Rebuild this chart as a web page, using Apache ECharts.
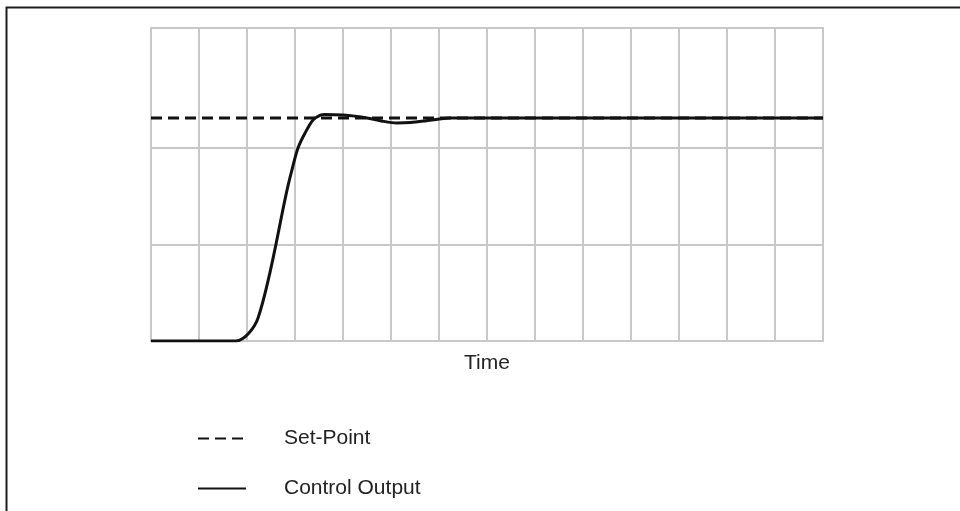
<!DOCTYPE html>
<html>
<head>
<meta charset="utf-8">
<script src="https://cdn.jsdelivr.net/npm/echarts@6/dist/echarts.min.js"></script>
<style>html,body{margin:0;padding:0;background:#fff;}#c{width:960px;height:511px;}</style>
</head>
<body>
<div id="c"></div>
<script>
// Time axis: 14 grid divisions; y in grid-line units (lines at 1 and 2)
var timeValues    = [0, 1.77, 2.23, 2.85, 2.95, 3.0625, 3.21, 3.375, 3.53, 3.625, 4.0, 4.25, 4.5, 4.8, 5.125, 5.4, 5.71, 6.0, 6.23, 6.6, 14];
var controlOutput = [0, 0, 0.238, 1.6, 1.8, 2.0, 2.155, 2.29, 2.34, 2.347, 2.342, 2.33, 2.311, 2.28, 2.259, 2.263, 2.28, 2.3, 2.311, 2.311, 2.311];
var setPointX = [0, 14];
var setPointValue = 2.311;
var gridLineValues = [1, 2];
var seriesNames = ['Set-Point', 'Control Output'];
var axisTitle = 'Time';

var gridColor = '#c8c8c8';
var fontFam = 'Liberation Sans, Arial, sans-serif';
function pairs(xs, ys) { return xs.map(function (x, i) { return [x, ys[i]]; }); }

var chart = echarts.init(document.getElementById('c'), null, {renderer: 'canvas'});
chart.setOption({
  animation: false,
  backgroundColor: '#fff',
  graphic: [{
    type: 'rect', left: 4, top: 5, silent: true, z: 100,
    shape: {width: 2000, height: 2000},
    style: {fill: 'none', stroke: '#1e1e1e', lineWidth: 2}
  }],
  grid: {left: 151, right: 137, top: 28, bottom: 170, show: true, borderColor: gridColor, borderWidth: 2, backgroundColor: 'transparent'},
  legend: {
    orient: 'vertical', left: 192, top: 423, itemWidth: 48, itemHeight: 14, itemGap: 29,
    itemStyle: {color: 'rgba(0,0,0,0)', borderColor: 'rgba(0,0,0,0)', borderWidth: 0, opacity: 0},
    textStyle: {fontFamily: fontFam, fontSize: 21, color: '#222', padding: [0, 0, 0, 33]},
    data: seriesNames
  },
  xAxis: {
    type: 'value', min: 0, max: 14, interval: 1,
    axisLine: {show: false}, axisTick: {show: false}, axisLabel: {show: false},
    splitLine: {show: true, lineStyle: {color: gridColor, width: 2}},
    name: axisTitle, nameLocation: 'middle', nameGap: 12,
    nameTextStyle: {fontFamily: fontFam, fontSize: 21, color: '#222'}
  },
  yAxis: {
    type: 'value', min: 0, max: 3.243,
    axisLine: {show: false}, axisTick: {show: false}, axisLabel: {show: false},
    splitLine: {show: false}
  },
  series: [
    {
      name: seriesNames[0], type: 'line', symbol: 'none', z: 3,
      data: pairs(setPointX, setPointX.map(function () { return setPointValue; })),
      lineStyle: {color: '#111', width: 3, type: [11, 6]},
      itemStyle: {color: '#111'},
      markLine: {
        silent: true, symbol: 'none', z: 1, label: {show: false},
        lineStyle: {color: gridColor, width: 2, type: 'solid'},
        emphasis: {disabled: true},
        data: gridLineValues.map(function (v) { return {yAxis: v}; })
      }
    },
    {
      name: seriesNames[1], type: 'line', symbol: 'none', z: 4, smooth: 0.3,
      data: pairs(timeValues, controlOutput),
      lineStyle: {color: '#111', width: 3},
      itemStyle: {color: '#111'}
    }
  ]
});
</script>
</body>
</html>
